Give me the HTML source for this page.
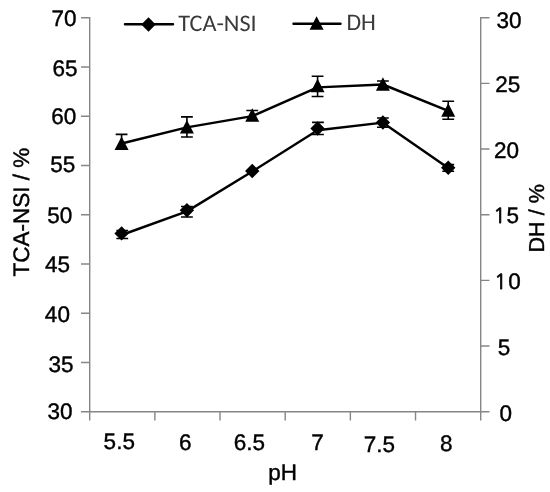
<!DOCTYPE html>
<html><head><meta charset="utf-8"><style>
html,body{margin:0;padding:0;background:#fff;}
svg{display:block;}
text{text-rendering:geometricPrecision;font-family:"Liberation Sans",Arial,sans-serif;font-size:22.5px;fill:#000;stroke:#000;stroke-width:0.4px;}
.one{font-family:NanumGothic,"Liberation Sans",sans-serif;font-size:20.7px;stroke-width:0.75px;}
.lg{font-family:Carlito,"Liberation Sans",sans-serif;font-size:24.2px;font-size-adjust:cap-height 0.632;stroke-width:0;fill:#3a3a3a;}
</style></head><body>
<svg width="550" height="492" viewBox="0 0 550 492">
<rect width="550" height="492" fill="#fff"/>
<g stroke="#868686" stroke-width="1.4" fill="none">
<path d="M89.7 17.0V412.0M480.7 17.0V412.0M89.5 411.7H481.0"/>
<path d="M81.0 17.70H89.5M81.0 66.95H89.5M81.0 116.20H89.5M81.0 165.45H89.5M81.0 214.70H89.5M81.0 263.95H89.5M81.0 313.20H89.5M81.0 362.45H89.5M81.0 411.70H89.5M480.5 17.70H489.5M480.5 83.37H489.5M480.5 149.03H489.5M480.5 214.70H489.5M480.5 280.37H489.5M480.5 346.03H489.5M480.5 411.70H489.5M89.70 411.5V420.5M154.87 411.5V420.5M220.03 411.5V420.5M285.20 411.5V420.5M350.37 411.5V420.5M415.53 411.5V420.5M480.70 411.5V420.5"/>
</g>
<path d="M121.58 143.45 L186.91 127.40 L252.24 116.10 L317.57 87.40 L382.90 84.50 L448.23 110.95" stroke="#000" stroke-width="2.45" fill="none" stroke-linejoin="round"/>
<path d="M121.58 235.00 L186.91 211.40 L252.24 171.45 L317.57 130.30 L382.90 122.65 L448.23 167.95" stroke="#000" stroke-width="2.45" fill="none" stroke-linejoin="round"/>
<path d="M116.38 230.5H128.18M122.28 230.5V233.4M116.38 238.5H128.18M122.28 238.5V233.4M181.01 206.5H192.81M186.91 206.5V210.3M181.01 217.0H192.81M186.91 217.0V210.3M312.07 122.4H323.87M317.97 122.4V128.5M312.07 134.5H323.87M317.97 134.5V128.5M377.00 118.0H388.80M382.90 118.0V122.5M377.00 127.3H388.80M382.90 127.3V122.5M442.33 164.6H454.13M448.23 164.6V167.8M442.33 171.3H454.13M448.23 171.3V167.8M115.68 134.4H127.48M121.58 134.4V143.3M181.01 116.9H192.81M186.91 116.9V126.8M181.01 137.0H192.81M186.91 137.0V126.8M246.34 110.5H258.14M252.24 110.5V115.0M311.67 76.25H323.47M317.57 76.25V85.5M311.67 96.5H323.47M317.57 96.5V85.5M377.00 81.0H388.80M382.90 81.0V84.0M442.33 101.3H454.13M448.23 101.3V110.0M442.33 119.3H454.13M448.23 119.3V110.0" stroke="#000" stroke-width="1.6" fill="none"/>
<path d="M121.58 226.20L128.78 233.40L121.58 240.60L114.38 233.40ZM186.91 203.10L194.11 210.30L186.91 217.50L179.71 210.30ZM252.24 163.80L259.44 171.00L252.24 178.20L245.04 171.00ZM317.57 121.30L324.77 128.50L317.57 135.70L310.37 128.50ZM382.90 115.30L390.10 122.50L382.90 129.70L375.70 122.50ZM448.23 160.60L455.43 167.80L448.23 175.00L441.03 167.80ZM121.58 136.55L128.58 150.05L114.58 150.05ZM186.91 120.05L193.91 133.55L179.91 133.55ZM252.24 108.25L259.24 121.75L245.24 121.75ZM317.57 78.75L324.57 92.25L310.57 92.25ZM382.90 77.25L389.90 90.75L375.90 90.75ZM448.23 103.25L455.23 116.75L441.23 116.75Z" fill="#000"/>
<path d="M125 24.3H173M293.5 23.7H340.5" stroke="#000" stroke-width="2.45" stroke-linecap="round"/>
<path d="M148.5 17.3L155.7 24.5L148.5 31.7L141.3 24.5Z" fill="#000"/>
<path d="M316.6 16.25L323.6 29.75L309.6 29.75Z" fill="#000"/>
<text transform="translate(63.90 25.61)" text-anchor="middle">70</text>
<text transform="translate(64.96 75.81)" text-anchor="middle">65</text>
<text transform="translate(63.83 124.33)" text-anchor="middle">60</text>
<text transform="translate(62.66 172.16)" text-anchor="middle">55</text>
<text transform="translate(59.86 222.82)" text-anchor="middle">50</text>
<text transform="translate(57.51 271.65)" text-anchor="middle">45</text>
<text transform="translate(57.39 321.83)" text-anchor="middle">40</text>
<text transform="translate(61.00 371.81)" text-anchor="middle">35</text>
<text transform="translate(59.92 419.31)" text-anchor="middle">30</text>
<text transform="translate(508.92 28.32)" text-anchor="middle">30</text>
<text transform="translate(507.73 92.34)" text-anchor="middle">25</text>
<text transform="translate(506.41 157.88)" text-anchor="middle">20</text>
<text transform="translate(506.65 223.13)" text-anchor="middle"><tspan class="one" dx="-0.5">1</tspan><tspan dx="0.5">5</tspan></text>
<text transform="translate(508.76 289.33)" text-anchor="middle"><tspan class="one" dx="-1.3">1</tspan><tspan dx="1.3">0</tspan></text>
<text transform="translate(504.11 355.17)" text-anchor="middle">5</text>
<text transform="translate(505.74 421.36)" text-anchor="middle">0</text>
<text transform="translate(119.26 448.64)" text-anchor="middle">5.5</text>
<text transform="translate(185.15 449.82)" text-anchor="middle">6</text>
<text transform="translate(249.32 449.82)" text-anchor="middle">6.5</text>
<text transform="translate(317.49 450.30)" text-anchor="middle">7</text>
<text transform="translate(379.31 451.92)" text-anchor="middle">7.5</text>
<text transform="translate(446.20 450.81)" text-anchor="middle">8</text>
<text transform="translate(282.60 480.06)" text-anchor="middle">pH</text>
<text transform="translate(29.09 212.02) rotate(-90)" text-anchor="middle">TCA-NSI / %</text>
<text transform="translate(543.74 218.32) rotate(-90)" text-anchor="middle" style="font-size:21.6px">DH / %</text>
<text class="lg" x="178.3" y="30.9" textLength="78.4" lengthAdjust="spacingAndGlyphs">TCA-NSI</text>
<text class="lg" x="346.4" y="29.9" textLength="29.4" lengthAdjust="spacingAndGlyphs">DH</text>
</svg>
</body></html>
